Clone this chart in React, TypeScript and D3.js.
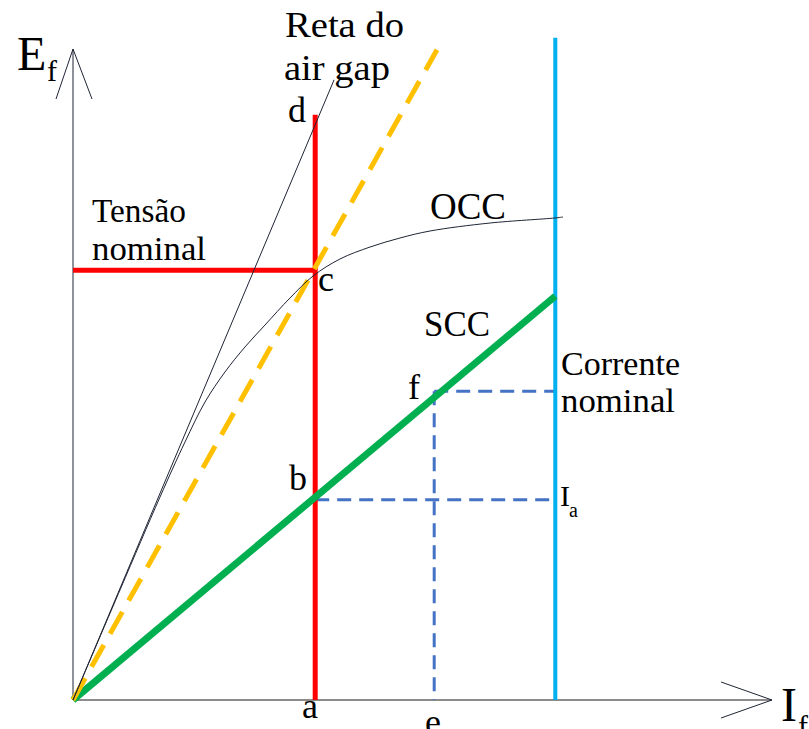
import React from "react";
import * as d3 from "d3";

// Data in arbitrary units (If, Ef), 0..100
const occCurve: [number, number][] = [
  [0, 0], [6.71, 15.71], [12.43, 29.0], [16.0, 36.86], [18.86, 42.57],
  [21.71, 46.86], [24.57, 50.43], [27.43, 53.57], [31.0, 57.43], [34.29, 60.57],
  [38.14, 63.0], [42.43, 64.71], [46.71, 66.0], [51.0, 67.0], [59.57, 68.14],
  [68.86, 68.86], [70.0, 69.0],
];
const airGapLine: [number, number][] = [[0, 0], [37.3, 88.6]];
const dashedOrange: [number, number][] = [[0, 0], [52, 92.9]];
const sccLine: [number, number][] = [[0, 0], [68.9, 57.7]];
const ratedVoltage = 61.4; // Ef at c
const aCurrent = 34.6; // If at a
const eCurrent = 51.6; // If at e
const ratedCurrent = 68.9; // nominal current (blue line)
const bValue = 28.6;
const fValue = 44.1;
const redTop = 83.6;
const blueTop = 94.6;
const axisMaxX = 100;
const axisMaxY = 93;

export default function App() {
  const W = 809, H = 729;
  const x = d3.scaleLinear().domain([0, 100]).range([73, 773]);
  const y = d3.scaleLinear().domain([0, 100]).range([700, 0]);
  const line = d3.line<[number, number]>().x(d => x(d[0])).y(d => y(d[1]));
  const curve = d3.line<[number, number]>().x(d => x(d[0])).y(d => y(d[1])).curve(d3.curveCatmullRom.alpha(0.5));
  const serif = "'Liberation Serif', 'DejaVu Serif', serif";
  const ox = x(0), oy = y(0);
  return (
    <svg width={W} height={H} style={{ position: "absolute", left: 0, top: 0, background: "#fff" }} fontFamily={serif}>
      <rect width={W} height={H} fill="#fff" />
      {/* Y axis */}
      <line x1={ox} y1={oy} x2={ox} y2={y(axisMaxY)} stroke="#1f2535" strokeWidth={1} />
      <polyline points={`${ox - 17},${y(axisMaxY) + 50} ${ox},${y(axisMaxY)} ${ox + 19},${y(axisMaxY) + 50}`} fill="none" stroke="#1f2535" strokeWidth={1} />
      {/* X axis */}
      <line x1={ox} y1={oy} x2={x(axisMaxX) - 1} y2={oy} stroke="#8c8c8c" strokeWidth={2} />
      <polyline points={`${x(axisMaxX) - 52},${oy - 18} ${x(axisMaxX) - 1},${oy} ${x(axisMaxX) - 52},${oy + 18}`} fill="none" stroke="#1f2535" strokeWidth={1} />

      {/* Blue dashed guides */}
      <g stroke="#4472c4" strokeWidth={3} strokeDasharray="14 8" fill="none">
        <line x1={x(aCurrent)} y1={y(bValue)} x2={x(ratedCurrent)} y2={y(bValue)} />
        <line x1={x(eCurrent)} y1={y(fValue)} x2={x(ratedCurrent)} y2={y(fValue)} />
        <line x1={x(eCurrent)} y1={y(fValue)} x2={x(eCurrent)} y2={y(0)} />
      </g>

      {/* Red lines */}
      <line x1={x(0)} y1={y(ratedVoltage)} x2={x(aCurrent)} y2={y(ratedVoltage)} stroke="#ff0000" strokeWidth={5} />
      <line x1={x(aCurrent)} y1={y(redTop)} x2={x(aCurrent)} y2={y(0)} stroke="#ff0000" strokeWidth={5} />

      {/* Blue rated current line */}
      <line x1={x(ratedCurrent)} y1={y(blueTop)} x2={x(ratedCurrent)} y2={y(0)} stroke="#00b0f0" strokeWidth={4} />

      {/* SCC */}
      <path d={line(sccLine) || ""} stroke="#00b050" strokeWidth={7} fill="none" />

      {/* Orange dashed */}
      <path d={line(dashedOrange) || ""} stroke="#ffc000" strokeWidth={5} strokeDasharray="25 13" fill="none" />

      {/* Air gap line & OCC */}
      <path d={line(airGapLine) || ""} stroke="#1f2535" strokeWidth={1} fill="none" />
      <path d={curve(occCurve) || ""} stroke="#1f2535" strokeWidth={1} fill="none" />

      {/* Labels */}
      <text x={17} y={70} fontSize={48}>E</text>
      <text x={47} y={81} fontSize={30}>f</text>
      <text x={781} y={721} fontSize={48}>I</text>
      <text x={798} y={736} fontSize={30}>f</text>

      <text x={285} y={37} fontSize={36} textLength={119} lengthAdjust="spacingAndGlyphs">Reta do</text>
      <text x={284} y={80} fontSize={36} textLength={106} lengthAdjust="spacingAndGlyphs">air gap</text>
      <text x={288} y={122} fontSize={36}>d</text>

      <text x={92} y={222} fontSize={33} textLength={94} lengthAdjust="spacingAndGlyphs">Tensão</text>
      <text x={92} y={260} fontSize={33} textLength={114} lengthAdjust="spacingAndGlyphs">nominal</text>

      <text x={430} y={219} fontSize={38} textLength={76} lengthAdjust="spacingAndGlyphs">OCC</text>
      <text x={318} y={291} fontSize={36}>c</text>
      <text x={424} y={336} fontSize={36} textLength={66} lengthAdjust="spacingAndGlyphs">SCC</text>

      <text x={561} y={375} fontSize={33} textLength={119} lengthAdjust="spacingAndGlyphs">Corrente</text>
      <text x={561} y={412} fontSize={33} textLength={114} lengthAdjust="spacingAndGlyphs">nominal</text>

      <text x={408} y={399} fontSize={36}>f</text>
      <text x={289} y={490} fontSize={36}>b</text>
      <text x={560} y={506} fontSize={30}>I</text>
      <text x={569} y={517} fontSize={20}>a</text>

      <text x={302} y={718} fontSize={36}>a</text>
      <text x={425} y={734} fontSize={36}>e</text>
    </svg>
  );
}
